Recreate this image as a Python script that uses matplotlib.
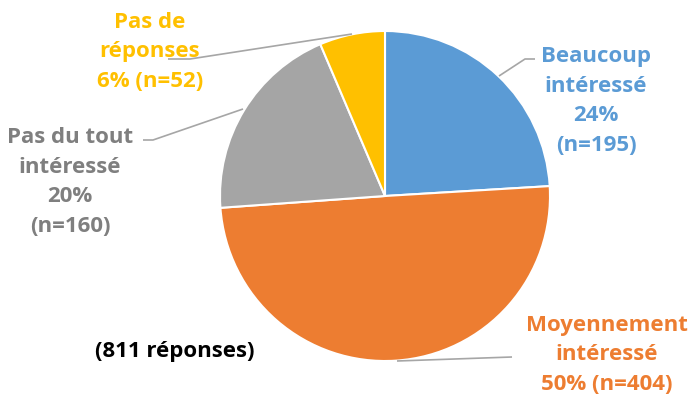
import matplotlib.pyplot as plt

# data
categories = ["Beaucoup intéressé", "Moyennement intéressé", "Pas du tout intéressé", "Pas de réponses"]
counts = [195, 404, 160, 52]
percents = [24, 50, 20, 6]
colors = ["#5B9BD5", "#ED7D31", "#A5A5A5", "#FFC000"]
label_texts = [
    "Beaucoup\nintéressé\n24%\n(n=195)",
    "Moyennement\nintéressé\n50% (n=404)",
    "Pas du tout\nintéressé\n20%\n(n=160)",
    "Pas de\nréponses\n6% (n=52)",
]
label_colors = ["#5B9BD5", "#ED7D31", "#7F7F7F", "#FFC000"]
total_text = "(811 réponses)"

W, H = 694, 402
fig = plt.figure(figsize=(W / 100, H / 100), dpi=100)
ax = fig.add_axes([0, 0, 1, 1])

def Y(py):
    # convert pixel row to data y
    return H - py

cx, cy, r = 385, Y(197), 165
ax.pie(counts, colors=colors, startangle=90, counterclock=False,
       center=(cx, cy), radius=r, frame=True,
       wedgeprops=dict(edgecolor="white", linewidth=1.5))
ax.set_xlim(0, W)
ax.set_ylim(0, H)
ax.set_aspect("equal")
ax.axis("off")

font = dict(family=["Open Sans", "DejaVu Sans"], fontweight="bold", fontsize=16)

label_pos = [(596, 101), (607, 355), (70, 182), (150, 52)]
for txt, (x, y), c in zip(label_texts, label_pos, label_colors):
    ax.text(x, Y(y), txt, color=c, ha="center", va="center",
            linespacing=1.55, **font)

ax.text(175, Y(352), total_text, color="black", ha="center", va="center", **font)

# leader lines
leaders = [
    [(499, 77), (525, 60), (535, 60)],
    [(397, 362), (512, 358)],
    [(243, 110), (153, 141), (143, 141)],
    [(352, 35), (190, 60), (168, 60)],
]
for pts in leaders:
    xs = [p[0] for p in pts]
    ys = [Y(p[1]) for p in pts]
    ax.plot(xs, ys, color="#A6A6A6", linewidth=1.2, solid_capstyle="butt")

fig.savefig("out.png", dpi=100)
